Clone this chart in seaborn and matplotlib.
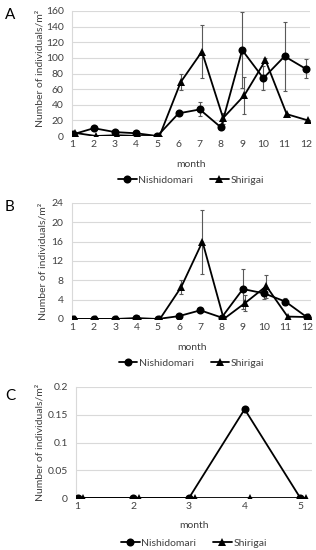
import numpy as np
import pandas as pd
import matplotlib
matplotlib.use("Agg")
import matplotlib.pyplot as plt
import seaborn as sns
from matplotlib.lines import Line2D
from matplotlib.ticker import FuncFormatter

# ---- data ----
months_ab = [1, 2, 3, 4, 5, 6, 7, 8, 9, 10, 11, 12]
a_nishi = [2, 10, 5, 3.5, 0, 29, 34, 11, 110, 74, 102, 86]
a_nishi_err = [0, 0, 0, 0, 0, 2, 9, 0, 49, 15, 44, 12]
a_shiri = [4, 0, 1, 0, 0, 69, 108, 23, 52, 97, 28, 20]
a_shiri_err = [0, 0, 0, 0, 0, 10, 34, 7, 24, 3, 0, 0]

b_nishi = [0, 0, 0, 0.2, 0, 0.6, 1.8, 0.3, 6.2, 5.3, 3.6, 0.4]
b_nishi_err = [0, 0, 0, 0, 0, 0, 0, 0, 4.1, 1.1, 0.8, 0]
b_shiri = [0, 0, 0, 0, 0, 6.6, 16, 0, 3.3, 6.8, 0.5, 0.4]
b_shiri_err = [0, 0, 0, 0, 0, 1.5, 6.6, 0, 1.7, 2.4, 0, 0]

months_c = [1, 2, 3, 4, 5]
c_nishi = [0, 0, 0, 0.16, 0]
c_shiri = [0, 0, 0, 0, 0]

sites = ["Nishidomari", "Shirigai"]
ylabel = "Number of individuals/m\u00b2"

sns.set_theme(style="white")
plt.rcParams["font.family"] = ["Lato", "DejaVu Sans"]

W, H = 316, 550
fig = plt.figure(figsize=(W / 100, H / 100), dpi=100)
TXT = "#404040"
FS = 7.5
MS = 5.8

def px_axes(left, top, right, bottom):
    return fig.add_axes([left / W, 1 - bottom / H, (right - left) / W, (bottom - top) / H])

def panel(ax, months, nishi, shiri, nerr, serr, ymax, ystep, xmax, fmt=None,
          lab_y=-0.2, leg_y=-0.36, ylab_x=-0.135):
    m = np.array(months, dtype=float)
    df = pd.DataFrame({
        "month": np.concatenate([m, m + 0.1]),
        "value": np.concatenate([nishi, shiri]),
        "site": [sites[0]] * len(m) + [sites[1]] * len(m),
    })
    for y in np.arange(ystep, ymax + ystep / 2, ystep):
        ax.axhline(y, color="#d9d9d9", lw=0.8, zorder=0)
    if nerr is not None:
        ax.errorbar(m, nishi, yerr=nerr, fmt="none", ecolor="#595959", elinewidth=0.8,
                    capsize=1.6, capthick=0.8, zorder=2)
        ax.errorbar(m + 0.1, shiri, yerr=serr, fmt="none", ecolor="#595959", elinewidth=0.8,
                    capsize=1.6, capthick=0.8, zorder=2)
    sns.lineplot(data=df, x="month", y="value", style="site", markers={sites[0]: "o", sites[1]: "^"},
                 dashes=False, color="black", markersize=MS, markeredgewidth=0, lw=1.3,
                 ax=ax, legend=False, zorder=3)
    ax.set_xlim(0.97, xmax)
    ax.set_ylim(0, ymax)
    ax.set_xticks(months)
    ax.set_xticklabels([str(v) for v in months])
    ax.set_yticks(np.arange(0, ymax + ystep / 2, ystep))
    if fmt is not None:
        ax.yaxis.set_major_formatter(FuncFormatter(fmt))
    for s in ["top", "right", "bottom"]:
        ax.spines[s].set_visible(False)
    ax.spines["left"].set_color("#d9d9d9")
    ax.spines["left"].set_linewidth(0.8)
    ax.tick_params(axis="both", length=0, labelsize=FS, colors=TXT)
    ax.tick_params(axis="y", pad=6)
    ax.tick_params(axis="x", pad=3)
    ax.set_xlabel("month", fontsize=FS, color=TXT)
    ax.xaxis.set_label_coords(0.5, lab_y)
    ax.set_ylabel(ylabel, fontsize=FS, color=TXT)
    ax.yaxis.label.set_va("center")
    ax.yaxis.set_label_coords(ylab_x, 0.5)
    handles = [Line2D([], [], color="black", marker="o", markersize=MS, lw=1.3, markeredgewidth=0),
               Line2D([], [], color="black", marker="^", markersize=MS, lw=1.3, markeredgewidth=0)]
    leg = ax.legend(handles, sites, loc="center", bbox_to_anchor=(0.5, leg_y), ncol=2,
                    frameon=False, fontsize=FS, handlelength=1.8, handletextpad=0.15,
                    columnspacing=1.6, borderpad=0)
    for t in leg.get_texts():
        t.set_color(TXT)

axA = px_axes(72, 11, 310, 136)
panel(axA, months_ab, a_nishi, a_shiri, a_nishi_err, a_shiri_err, 160, 20, 12.2,
      lab_y=-0.19, leg_y=-0.352, ylab_x=-0.135)
axA.yaxis.set_label_coords(-0.135, 0.544)

axB = px_axes(72, 203, 311, 319)
panel(axB, months_ab, b_nishi, b_shiri, b_nishi_err, b_shiri_err, 24, 4, 12.2,
      lab_y=-0.205, leg_y=-0.379, ylab_x=-0.122)

axC = px_axes(76, 387, 312, 498)
panel(axC, months_c, c_nishi, c_shiri, None, None, 0.2, 0.05, 5.21,
      fmt=lambda v, p: "0" if v == 0 else f"{v:g}",
      lab_y=-0.205, leg_y=-0.405, ylab_x=-0.153)

for letter, y in [("A", 15), ("B", 207), ("C", 396)]:
    fig.text(10 / W, 1 - y / H, letter, fontsize=11, ha="center", va="center", color="black")

fig.savefig("out.png", dpi=100)
